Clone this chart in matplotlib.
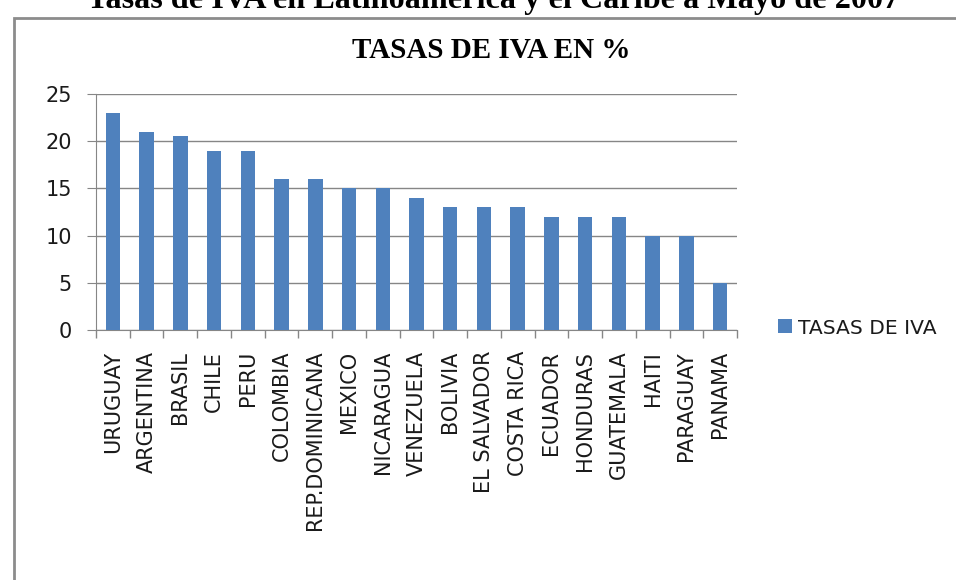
import matplotlib
matplotlib.use("Agg")
import matplotlib.pyplot as plt
from matplotlib.patches import Rectangle

categories = ["URUGUAY", "ARGENTINA", "BRASIL", "CHILE", "PERU", "COLOMBIA",
              "REP.DOMINICANA", "MEXICO", "NICARAGUA", "VENEZUELA", "BOLIVIA",
              "EL SALVADOR", "COSTA RICA", "ECUADOR", "HONDURAS", "GUATEMALA",
              "HAITI", "PARAGUAY", "PANAMA"]
values = [23, 21, 20.5, 19, 19, 16, 16, 15, 15, 14, 13, 13, 13, 12, 12, 12, 10, 10, 5]
yticks = [0, 5, 10, 15, 20, 25]
series_name = "TASAS DE IVA"
chart_title = "TASAS DE IVA EN %"
doc_title = "Tasas de IVA en Latinoamérica y el Caribe a Mayo de 2007"

W, H = 956, 580
fig = plt.figure(figsize=(W / 100, H / 100), dpi=100)

# chart frame
fig.patches.append(Rectangle((14 / W, -0.05), 1.1, 1 - 18 / H + 0.05,
                             transform=fig.transFigure, fill=False,
                             edgecolor="#8c8c8c", linewidth=2, zorder=0))

fig.text(493 / W, 1 - 8 / H, doc_title, ha="center", va="baseline",
         fontsize=23.2, fontweight="bold", family="Liberation Serif")
fig.text(491 / W, 1 - 58 / H, chart_title, ha="center", va="baseline",
         fontsize=21, fontweight="bold", family="Liberation Serif")

ax = fig.add_axes([96 / W, 1 - 330 / H, (737 - 96) / W, (330 - 94) / H])
x = list(range(len(categories)))
bars = ax.bar(x, values, width=0.43, color="#4F81BD", label=series_name, zorder=3)
ax.set_xlim(-0.5, len(categories) - 0.5)
ax.set_ylim(0, 25)
ax.set_yticks(yticks)
ax.set_yticklabels([str(t) for t in yticks], fontsize=15, family="DejaVu Sans",
                   color="#1a1a1a")
ax.set_xticks(x)
ax.set_xticklabels(categories, rotation=90, fontsize=15, family="DejaVu Sans",
                   color="#1a1a1a")
ax.tick_params(axis="x", length=0, pad=15)
ax.tick_params(axis="y", length=6.5, color="#868686", pad=11)
ax.set_xticks([i - 0.5 for i in range(len(categories) + 1)], minor=True)
ax.tick_params(axis="x", which="minor", length=6, color="#868686", width=1)
ax.grid(axis="y", color="#868686", linewidth=1, zorder=0)
for s in ["top", "right"]:
    ax.spines[s].set_visible(False)
for s in ["left", "bottom"]:
    ax.spines[s].set_color("#868686")
ax.set_axisbelow(True)

leg = fig.legend(handles=[bars], labels=[series_name], loc="center left",
                 bbox_to_anchor=(760 / W, 1 - 328 / H), frameon=False,
                 prop={"family": "DejaVu Sans", "size": 14.6},
                 handlelength=0.67, handleheight=0.67, handletextpad=0.3)
for t in leg.get_texts():
    t.set_color("#1a1a1a")

fig.savefig("out.png", dpi=100)
